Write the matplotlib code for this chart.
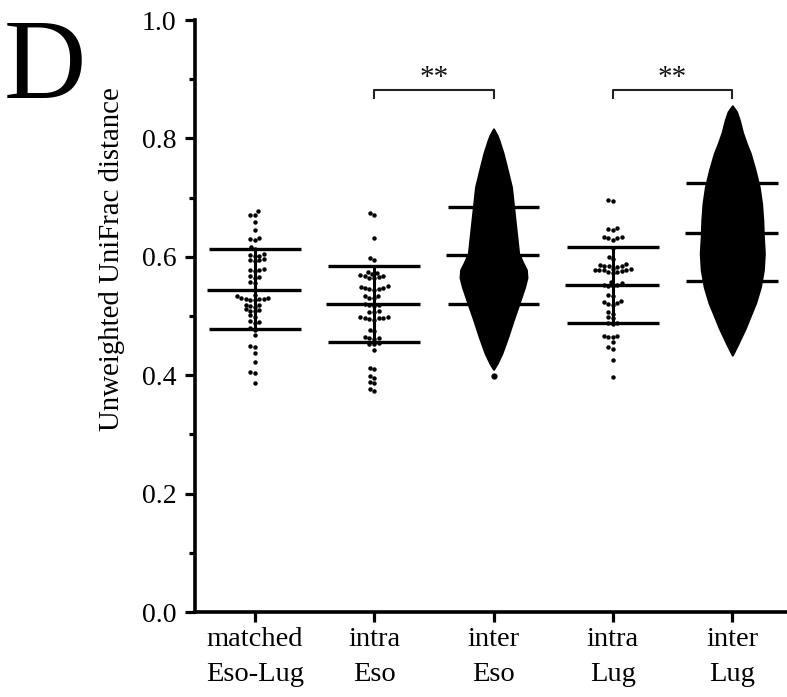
import numpy as np
import pandas as pd
import matplotlib
matplotlib.use("Agg")
import matplotlib.pyplot as plt
import seaborn as sns

plt.rcParams['font.family'] = ['Liberation Serif', 'DejaVu Serif']

# categorias (eixo x)
labels = ["matched\nEso-Lug", "intra\nEso", "inter\nEso", "intra\nLug", "inter\nLug"]

# pontos individuais (grupos esparsos)
matched = [0.677, 0.671, 0.671, 0.659, 0.645, 0.632, 0.630, 0.628, 0.617, 0.613,
           0.604, 0.603, 0.602, 0.601, 0.596, 0.595, 0.594, 0.593, 0.579, 0.578,
           0.577, 0.576, 0.567, 0.566, 0.565, 0.557, 0.555, 0.544, 0.535, 0.533,
           0.531, 0.530, 0.529, 0.529, 0.528, 0.527, 0.527, 0.519, 0.518, 0.517,
           0.516, 0.511, 0.510, 0.509, 0.508, 0.501, 0.499, 0.491, 0.490, 0.489,
           0.479, 0.477, 0.468, 0.450, 0.448, 0.437, 0.422, 0.405, 0.403, 0.387]
intra_eso = [0.674, 0.670, 0.632, 0.598, 0.594,
             0.575, 0.573, 0.571, 0.569, 0.568, 0.567, 0.566, 0.565, 0.564,
             0.550, 0.549, 0.548, 0.547, 0.546, 0.545, 0.544,
             0.534, 0.533, 0.531, 0.530, 0.520, 0.519, 0.518, 0.517,
             0.508, 0.507, 0.506, 0.499, 0.498, 0.497, 0.497, 0.496, 0.495, 0.494,
             0.477, 0.475, 0.464, 0.463, 0.462, 0.461, 0.454, 0.453, 0.452, 0.443,
             0.413, 0.411, 0.398, 0.396, 0.388, 0.386, 0.376, 0.374]
intra_lug = [0.696, 0.695, 0.648, 0.647, 0.645, 0.634, 0.633, 0.632, 0.631, 0.629, 0.615,
             0.600, 0.597, 0.587, 0.586, 0.585, 0.585, 0.584, 0.583,
             0.580, 0.579, 0.578, 0.578, 0.577, 0.577, 0.576, 0.575, 0.574, 0.572,
             0.557, 0.555, 0.553, 0.552, 0.551, 0.550, 0.536, 0.534,
             0.525, 0.523, 0.522, 0.520, 0.519, 0.506, 0.504, 0.498, 0.496,
             0.489, 0.488, 0.487, 0.467, 0.466, 0.465, 0.464, 0.456, 0.447, 0.445,
             0.426, 0.397]

# grupos densos (milhares de pontos): contorno lido da figura
# nivel y e meia-largura (em unidades de categoria)
inter_eso_y = [0.816, 0.805, 0.797, 0.775, 0.747, 0.718, 0.690, 0.662, 0.634, 0.606,
               0.590, 0.578, 0.565, 0.549, 0.522, 0.493, 0.465, 0.437, 0.420, 0.410]
inter_eso_hw = [0.0, 0.03, 0.045, 0.08, 0.115, 0.15, 0.165, 0.18, 0.195, 0.21,
                0.245, 0.275, 0.28, 0.26, 0.215, 0.165, 0.12, 0.07, 0.03, 0.0]
inter_eso_outliers = [0.399]
inter_lug_y = [0.855, 0.845, 0.830, 0.810, 0.790, 0.775, 0.747, 0.718, 0.690, 0.662,
               0.634, 0.606, 0.578, 0.549, 0.522, 0.500, 0.480, 0.465, 0.450, 0.434]
inter_lug_hw = [0.0, 0.035, 0.06, 0.085, 0.12, 0.15, 0.19, 0.225, 0.245, 0.255,
                0.26, 0.268, 0.26, 0.235, 0.195, 0.15, 0.11, 0.075, 0.04, 0.0]

# media e desvio padrao (linhas)
means = [0.544, 0.520, 0.603, 0.552, 0.640]
sd_upper = [0.613, 0.584, 0.684, 0.617, 0.725]
sd_lower = [0.478, 0.456, 0.520, 0.488, 0.559]

# significancia
sig_pairs = [(1, 2), (3, 4)]
sig_text = ["**", "**"]

fig = plt.figure(figsize=(7.87, 6.97), dpi=100)
ax = fig.add_axes([195 / 787, 85 / 697, 597 / 787, 592 / 697])

df = pd.DataFrame({
    "group": [labels[0]] * len(matched) + [labels[1]] * len(intra_eso) + [labels[3]] * len(intra_lug),
    "value": matched + intra_eso + intra_lug,
})
sns.swarmplot(data=df, x="group", y="value", order=labels, color="black",
              size=3.2, ax=ax, linewidth=0)

ax.fill_betweenx(inter_eso_y, 2 - np.array(inter_eso_hw), 2 + np.array(inter_eso_hw),
                 color="black", lw=1.5, zorder=3)
ax.scatter([2] * len(inter_eso_outliers), inter_eso_outliers, s=12, color="black", zorder=3)
ax.fill_betweenx(inter_lug_y, 4 - np.array(inter_lug_hw), 4 + np.array(inter_lug_hw),
                 color="black", lw=1.5, zorder=3)

for i in range(len(labels)):
    ax.hlines([sd_upper[i], sd_lower[i]], i - 0.385, i + 0.385, color="black", lw=2.4, zorder=4)
    ax.hlines(means[i], i - 0.4, i + 0.385, color="black", lw=2.4, zorder=4)
    ax.vlines(i, sd_lower[i], sd_upper[i], color="black", lw=2.2, zorder=4)

for (a, b), t in zip(sig_pairs, sig_text):
    ax.plot([a, a, b, b], [0.868, 0.882, 0.882, 0.868], color="#222222", lw=1.5, clip_on=False)
    ax.text((a + b) / 2, 0.880, t, ha="center", va="bottom", fontsize=21, color="#111111")

ax.set_xlim(-0.5, 4.5)
ax.set_ylim(0, 1.0)
ax.set_xticks(range(len(labels)))
ax.set_xticklabels(labels, fontsize=20.5, linespacing=1.5)
ax.set_yticks([0, 0.2, 0.4, 0.6, 0.8, 1.0])
ax.set_yticklabels(["0.0", "0.2", "0.4", "0.6", "0.8", "1.0"], fontsize=20)
ax.set_yticks(np.arange(0.1, 1.0, 0.2), minor=True)
ax.tick_params(axis="y", which="major", length=7.5, width=2.3, direction="out", pad=6)
ax.tick_params(axis="y", which="minor", length=4, width=2.3, direction="out")
ax.tick_params(axis="x", which="major", length=7, width=2.3, direction="out", pad=4)
ax.set_xlabel("")
ax.set_ylabel("")
for s in ["top", "right"]:
    ax.spines[s].set_visible(False)
for s in ["left", "bottom"]:
    ax.spines[s].set_linewidth(2.6)

fig.text(112 / 787, 1 - 259 / 697, "Unweighted UniFrac distance", rotation=90,
         ha="center", va="center", fontsize=20.8)
fig.text(4 / 787, 1 - 98 / 697, "D", ha="left", va="baseline", fontsize=82)

fig.savefig("out.png", dpi=100)
